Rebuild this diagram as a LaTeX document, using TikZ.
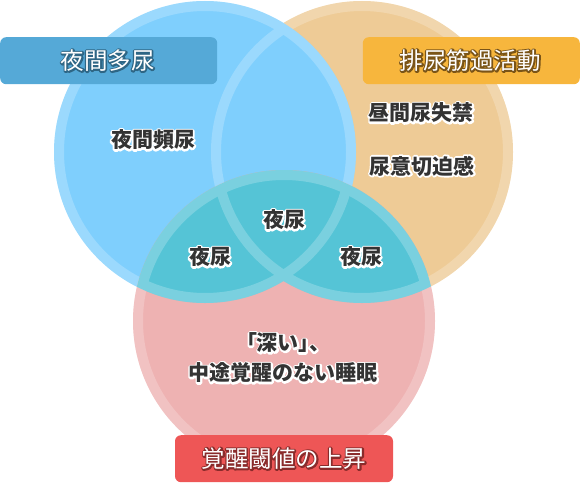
\documentclass[tikz,border=0pt]{standalone}
\usepackage{fontspec}
\setmainfont{Noto Sans CJK JP}
\usepackage{tikz}
\usetikzlibrary{positioning}
\definecolor{skyfill}  {HTML}{7FCFFD}
\definecolor{sandfill} {HTML}{EECB96}
\definecolor{rosefill} {HTML}{EEB2B2}
\definecolor{tealfill} {HTML}{55C4D6}
\definecolor{skybox}   {HTML}{55A9D7}
\definecolor{sandbox}  {HTML}{F7B63D}
\definecolor{redbox}   {HTML}{EE5656}
\definecolor{ink}      {HTML}{333333}
\tikzset{
  tagbox/.style={rounded corners=6pt, minimum width=217pt, minimum height=47pt,
                 inner sep=0pt},
  tagtext/.style={inner sep=0pt, text=white, font=\fontsize{23.5}{26}\selectfont},
  inlabel/.style={inner sep=0pt, text=ink, font=\fontsize{21}{28}\selectfont\bfseries},
}
% text with a stroked halo under it: #1 stroke colour (rgb), #2 stroke width, #3 text
\newcommand{\halo}[3]{\leavevmode\rlap{\special{pdf:literal direct 1 Tr #2 w 1 j #1 RG}#3\special{pdf:literal direct 0 Tr}}#3}
\newcommand{\whitehalo}[1]{\halo{1 1 1}{3.6}{#1}}
\begin{document}
\begin{tikzpicture}[x=1pt,y=-1pt]
  \useasboundingbox (0,0) rectangle (580,484);
  % circles
  \fill[sandfill] (362,152) circle[radius=151pt];
  \fill[skyfill]  (205,152) circle[radius=151pt];
  \fill[rosefill] (284,321) circle[radius=151pt];
  % overlap of the lower circle with the two upper ones
  \begin{scope}
    \clip (284,321) circle[radius=151pt];
    \fill[tealfill] (205,152) circle[radius=151pt] (362,152) circle[radius=151pt];
  \end{scope}
  % light rims
  \begin{scope}[transparency group, opacity=0.22]
    \draw[white, line width=10pt] (205,152) circle[radius=146pt];
    \draw[white, line width=10pt] (362,152) circle[radius=146pt];
    \draw[white, line width=10pt] (284,321) circle[radius=146pt];
  \end{scope}
  % tags
  \node[tagbox, fill=skybox, anchor=north west] (nocturia) at (0,37) {};
  \node[tagtext] (nocturiatxt) at ([xshift=-1pt]nocturia.center)
    {\halo{0.18 0.40 0.52}{3}{夜間多尿}};
  \node[tagbox, fill=sandbox, anchor=north east] (detrusor) at (580,37) {};
  \node[tagtext] (detrusortxt) at ([xshift=-1pt]detrusor.center)
    {\halo{0.48 0.33 0.09}{3}{排尿筋過活動}};
  \node[tagbox, fill=redbox, anchor=north, minimum width=218pt] (arousal) at (284,435) {};
  \node[tagtext] (arousaltxt) at (arousal.center)
    {\halo{0.54 0.17 0.17}{3}{覚醒閾値の上昇}};
  % labels inside the circles
  \node[inlabel] (freq)     at (153,140) {\whitehalo{夜間頻尿}};
  \node[inlabel] (dayinc)   at (421,113) {\whitehalo{昼間尿失禁}};
  \node[inlabel] (urgency)  at (422,166) {\whitehalo{尿意切迫感}};
  \node[inlabel] (enutop)   at (284,220) {\whitehalo{夜尿}};
  \node[inlabel] (enuleft)  at (210,257) {\whitehalo{夜尿}};
  \node[inlabel] (enuright) at (361,257) {\whitehalo{夜尿}};
  \node[inlabel] (deep)     at (283,343) {\addfontfeature{RawFeature=+palt}\whitehalo{「深い」、}};
  \node[inlabel] (sleep)    at (283,373) {\whitehalo{中途覚醒のない睡眠}};
\end{tikzpicture}
\end{document}
